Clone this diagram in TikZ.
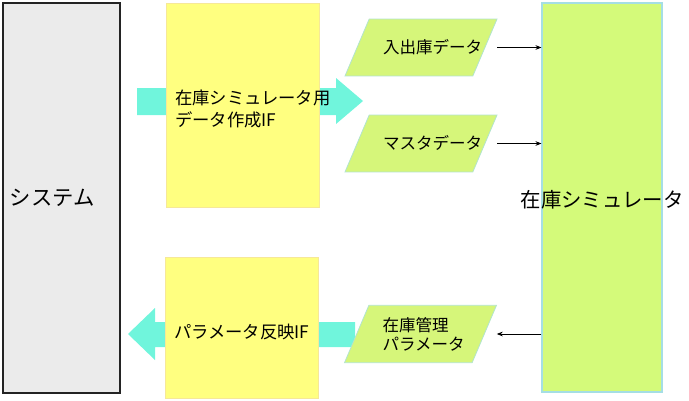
\documentclass[tikz,border=0pt]{standalone}
\usepackage{fontspec}
\setmainfont{Noto Sans CJK JP}
\usepackage{tikz}
\usetikzlibrary{arrows.meta,positioning,shapes.geometric,calc}
\definecolor{sysgray}{RGB}{235,235,235}
\definecolor{edgegray}{RGB}{35,35,35}
\definecolor{ifyellow}{RGB}{255,255,128}
\definecolor{ifedge}{RGB}{246,232,152}
\definecolor{simgreen}{RGB}{212,250,122}
\definecolor{simedge}{RGB}{165,222,228}
\definecolor{datagreen}{RGB}{214,246,122}
\definecolor{dataedge}{RGB}{178,228,205}
\definecolor{flowcyan}{RGB}{112,245,220}
\tikzset{
  sysbox/.style={draw=edgegray,line width=0.8pt,fill=sysgray,inner xsep=5pt,align=left,font=\fontsize{16pt}{20pt}\selectfont},
  ifbox/.style={draw=ifedge,line width=0.6pt,fill=ifyellow,minimum width=114.75pt,text width=101.25pt,inner xsep=6.75pt,align=left,font=\fontsize{13pt}{17pt}\selectfont},
  simbox/.style={draw=simedge,line width=0.8pt,fill=simgreen,minimum width=90pt,minimum height=291.75pt},
  data/.style={trapezium, trapezium left angle=67, trapezium right angle=113, trapezium stretches body=true, draw=dataedge, line width=0.6pt, fill=datagreen, minimum width=114pt, text width=57pt, text height=10pt, text depth=1.5pt, inner ysep=15.6pt, align=left, font=\fontsize{12.4pt}{14.25pt}\selectfont},
  flow/.style={fill=flowcyan},
  thinarr/.style={-{Stealth[length=4.5pt,width=3.5pt]},draw=black,line width=0.6pt}
}

\begin{document}
\begin{tikzpicture}[x=0.75pt,y=-0.75pt]
  \useasboundingbox (0,0) rectangle (689,400);
  % broad arrows, behind the IF boxes
  \path[flow] (137,88) -- (336,88) -- (336,78) -- (363,101) -- (336,124) -- (336,115) -- (137,115) -- cycle;
  \path[flow] (355,322) -- (155,322) -- (155,308) -- (128,334) -- (155,360) -- (155,347) -- (355,347) -- cycle;
  % boxes
  \node[sysbox,minimum width=87.75pt,minimum height=292.5pt,text width=77.75pt] (sys) at (61.5,198) {システム};
  \node[ifbox,minimum height=153pt] (gen) at (242.5,105) {\rule{0pt}{17pt}在庫シミュレータ用\\データ作成IF};
  \node[ifbox,minimum height=105.75pt] (refl) at (241.5,327.5) {\rule{0pt}{17pt}パラメータ反映IF};
  \node[simbox] (sim) at (602,197.5) {};
  \node[font=\fontsize{15.3pt}{18pt}\selectfont] (simtxt) at ([yshift=-2pt]sim.center) {在庫シミュレータ};
  % data
  \node[data] (inout) at (421,47.5) {入出庫データ};
  \node[data] (master) at (421,143.5) {マスタデータ};
  \node[data,text height={},text depth={},inner ysep=8.9pt] (param) at (420.5,334) {在庫管理\\パラメータ};
  \draw[thinarr] ([xshift=9pt]inout.east) -- (inout.east -| sim.west);
  \draw[thinarr] ([xshift=9pt]master.east) -- (master.east -| sim.west);
  \draw[thinarr] (param.east -| sim.west) -- ([xshift=9pt]param.east);
\end{tikzpicture}
\end{document}
